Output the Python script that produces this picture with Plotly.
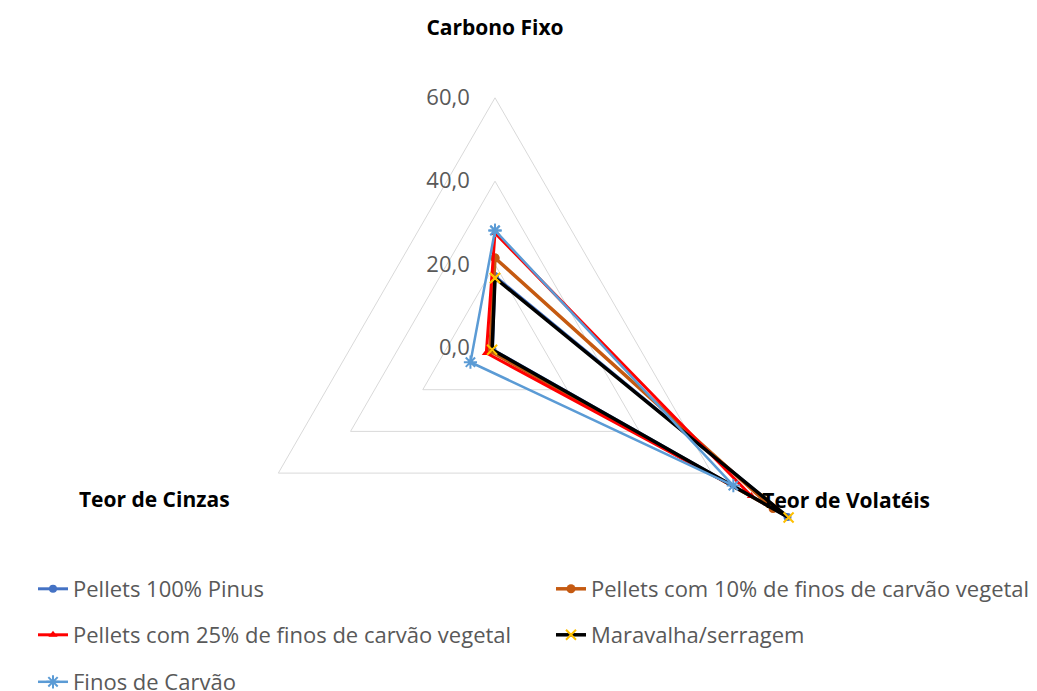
import plotly.graph_objects as go

categories = ["Carbono Fixo", "Teor de Volatéis", "Teor de Cinzas"]
series_names = [
    "Pellets 100% Pinus",
    "Pellets com 10% de finos de carvão vegetal",
    "Pellets com 25% de finos de carvão vegetal",
    "Maravalha/serragem",
    "Finos de Carvão",
]
pinus = [17.2, 81.0, 0.7]
finos10 = [21.6, 77.0, 1.4]
finos25 = [27.6, 71.0, 2.4]
maravalha = [16.8, 81.3, 0.8]
finos_carvao = [28.2, 66.0, 6.8]
radial_ticks = [0, 20, 40, 60]
category_label_r = [76.3, 74.0, 73.5]

values = [pinus, finos10, finos25, maravalha, finos_carvao]
line_colors = ["#4472C4", "#C55A11", "#FF0000", "#000000", "#5B9BD5"]
marker_symbols = ["circle", "circle", "triangle-up", "x-thin-open", "asterisk-open"]
marker_colors = ["#4472C4", "#C55A11", "#FF0000", "#FFC000", "#5B9BD5"]
marker_sizes = [8, 9, 8, 10, 11]
line_widths = [3, 3.5, 3, 3.5, 2.5]
legend_ids = ["legend", "legend", "legend2", "legend2", "legend3"]

FONT = "Open Sans"

fig = go.Figure()

# grid triangles (radial gridlines) drawn from the radial tick values
for t in radial_ticks[1:]:
    fig.add_trace(go.Scatterpolar(
        r=[t] * (len(categories) + 1),
        theta=categories + categories[:1],
        mode="lines",
        line=dict(color="#D9D9D9", width=1),
        hoverinfo="skip",
        showlegend=False,
    ))

for name, v, lc, ms, mc, msz, lw, lg in zip(series_names, values, line_colors, marker_symbols,
                                             marker_colors, marker_sizes, line_widths, legend_ids):
    marker = dict(symbol=ms, size=msz, color=mc)
    if ms.endswith("-open"):
        marker["line"] = dict(color=mc, width=2)
    fig.add_trace(go.Scatterpolar(
        r=v + v[:1],
        theta=categories + categories[:1],
        mode="lines+markers",
        name=name,
        line=dict(color=lc, width=lw),
        marker=marker,
        cliponaxis=False,
        legend=lg,
    ))

# category labels
fig.add_trace(go.Scatterpolar(
    r=category_label_r,
    theta=categories,
    mode="text",
    text=categories,
    textposition=["middle center", "middle right", "middle left"],
    textfont=dict(family=FONT, size=21, color="#000000", weight="bold"),
    cliponaxis=False,
    hoverinfo="skip",
    showlegend=False,
))

W, H = 1037, 691
# page body has an 8px default margin; figure coordinates are compensated
cx, cy = 487, 340
unit = 4.17  # px per radial unit
Rpx = cy
R_MAX = Rpx / unit

legend_common = dict(
    orientation="h",
    x=25 / W,
    xanchor="left",
    yanchor="middle",
    entrywidth=473,
    entrywidthmode="pixels",
    font=dict(family=FONT, size=22, color="#595959"),
    bgcolor="rgba(0,0,0,0)",
)

fig.update_layout(
    width=W,
    height=H,
    margin=dict(l=0, r=0, t=0, b=0, autoexpand=False),
    paper_bgcolor="white",
    separators=",.",
    font=dict(family=FONT),
    polar=dict(
        domain=dict(x=[(cx - Rpx) / W, (cx + Rpx) / W], y=[(H - cy - Rpx) / H, (H - cy + Rpx) / H]),
        bgcolor="rgba(0,0,0,0)",
        gridshape="linear",
        radialaxis=dict(
            range=[0, R_MAX],
            tickvals=radial_ticks,
            tickformat=".1f",
            angle=90,
            tickangle=90,
            side="counterclockwise",
            showline=False,
            showgrid=False,
            ticks="outside",
            ticklen=17,
            tickcolor="rgba(0,0,0,0)",
            tickfont=dict(family=FONT, size=22, color="#595959"),
        ),
        angularaxis=dict(
            rotation=90,
            direction="clockwise",
            showgrid=False,
            showline=False,
            showticklabels=False,
            ticks="",
        ),
    ),
    legend=dict(legend_common, y=(H - 581) / H),
    legend2=dict(legend_common, y=(H - 627) / H),
    legend3=dict(legend_common, y=(H - 674) / H),
)

fig.write_html("out.html")
